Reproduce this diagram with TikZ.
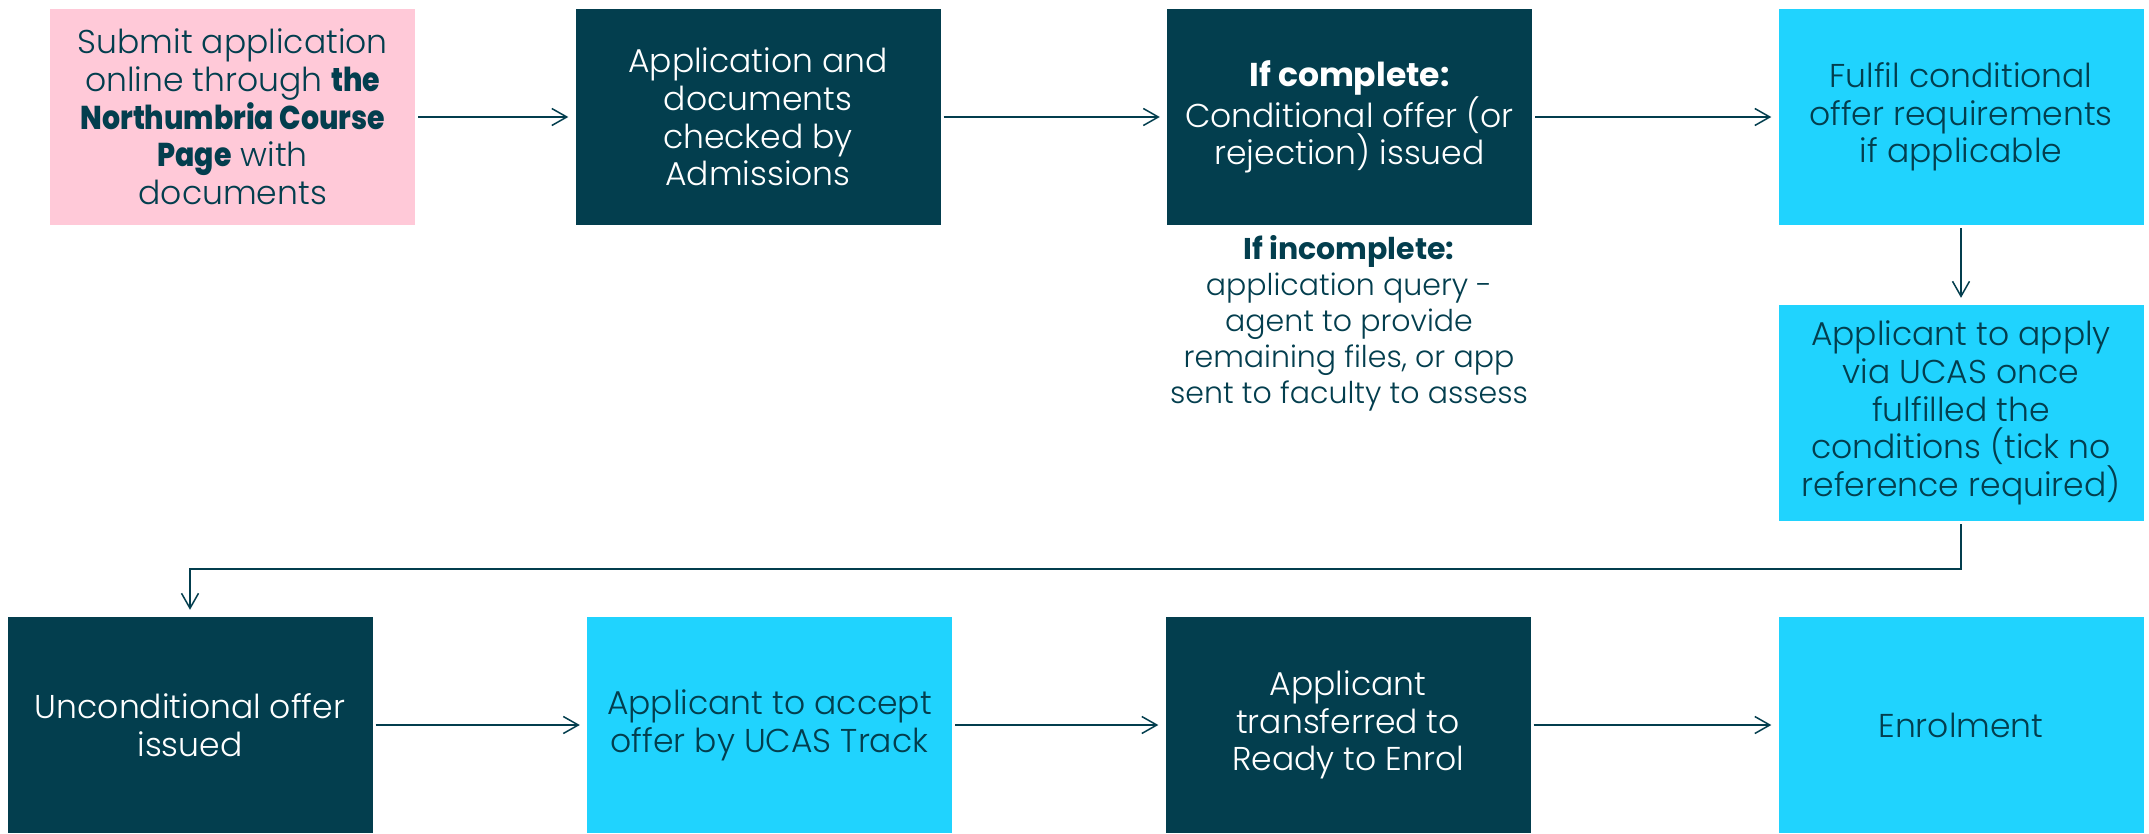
\documentclass[tikz,border=0pt]{standalone}
\usepackage{fontspec}
\setmainfont{Poppins}[UprightFont=* Light, BoldFont=* Bold]
\newfontfamily\heavyfont{Poppins}[UprightFont=* ExtraBold, FakeStretch=0.86]
\usetikzlibrary{arrows.meta}
\definecolor{dk}{HTML}{033E4E}
\definecolor{cy}{HTML}{20D3FE}
\definecolor{pk}{HTML}{FFC9D8}
\begin{document}
\begin{tikzpicture}[x=1pt,y=-1pt,
 box/.style={minimum width=365pt, minimum height=216pt, inner sep=0pt, align=center, font=\fontsize{33}{37.7}\selectfont},
 darkbox/.style={box, fill=dk, text=white},
 cyanbox/.style={box, fill=cy, text=dk},
 pinkbox/.style={box, fill=pk, text=dk},
 note/.style={inner sep=0pt, align=center, text=dk, font=\fontsize{30}{36}\selectfont},
 arr/.style={draw=dk, line width=1.5pt, -{Straight Barb[length=15pt,width=17pt]}, shorten <=3pt, shorten >=7pt}]
\useasboundingbox[fill=white] (0,0) rectangle (2149,833);
\node[pinkbox] (b1) at (232.75,117) {Submit application\\online through {\heavyfont the}\\{\heavyfont Northumbria Course}\\{\heavyfont Page} with\\documents};
\node[darkbox] (b2) at (758,117) {Application and\\documents\\checked by\\Admissions};
\node[darkbox] (b3) at (1349.5,117) {\textbf{If complete:}\\Conditional offer (or\\rejection) issued};
\node[cyanbox] (b4) at (1961,117) {Fulfil conditional\\offer requirements\\if applicable};
\node[cyanbox] (b5) at (1961,413) {Applicant to apply\\via UCAS once\\fulfilled the\\conditions (tick no\\reference required)};
\node[note, anchor=north] (inc) at (1349,235) {\textbf{If incomplete:}\\application query -\\agent to provide\\remaining files, or app\\sent to faculty to assess};
\node[darkbox] (b6) at (190,725) {Unconditional offer\\issued};
\node[cyanbox] (b7) at (769.5,725) {Applicant to accept\\offer by UCAS Track};
\node[darkbox] (b8) at (1348,725) {Applicant\\transferred to\\Ready to Enrol};
\node[cyanbox] (b9) at (1961,725) {Enrolment};
\coordinate (elb) at (1961,569);
\draw[arr] (b1) -- (b2);
\draw[arr] (b2) -- (b3);
\draw[arr] (b3) -- (b4);
\draw[arr] (b4) -- (b5);
\draw[arr] (b5) -- (elb) -| (b6);
\draw[arr] (b6) -- (b7);
\draw[arr] (b7) -- (b8);
\draw[arr] (b8) -- (b9);
\end{tikzpicture}
\end{document}
